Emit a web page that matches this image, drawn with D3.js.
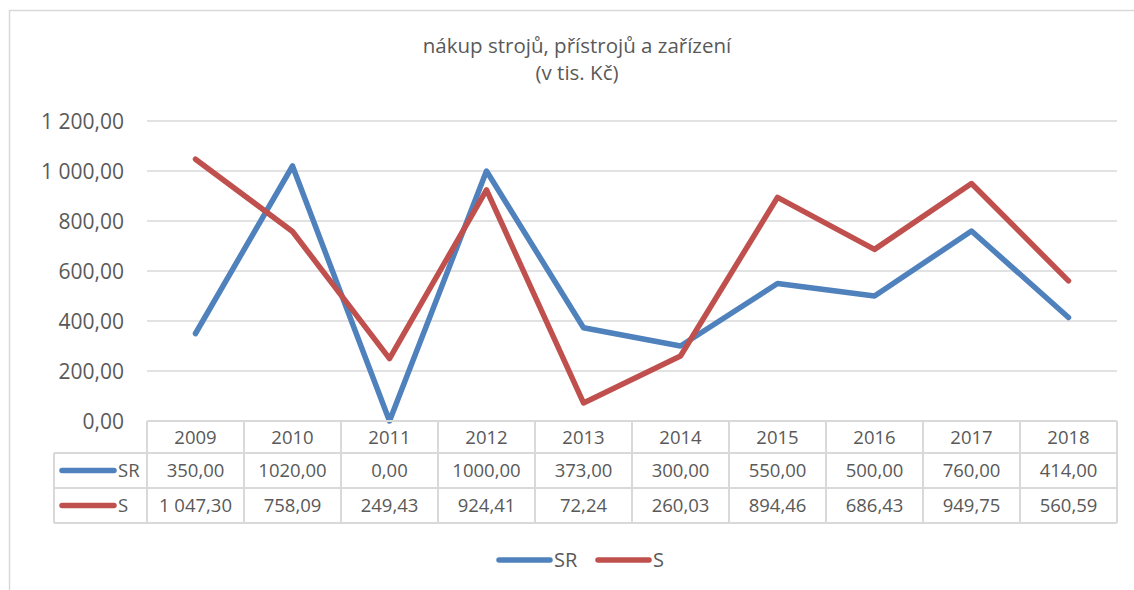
<!DOCTYPE html>
<html><head><meta charset="utf-8">
<script src="https://cdn.jsdelivr.net/npm/d3@7"></script>
<style>body{margin:0;background:#fff}svg{display:block}</style>
</head><body>
<svg id="c" width="1134" height="590"></svg>
<script>
const years = ["2009","2010","2011","2012","2013","2014","2015","2016","2017","2018"];
const srValues = [350, 1020, 0, 1000, 373, 300, 550, 500, 760, 414];
const sValues = [1047.30, 758.09, 249.43, 924.41, 72.24, 260.03, 894.46, 686.43, 949.75, 560.59];
const srLabels = ["350,00","1020,00","0,00","1000,00","373,00","300,00","550,00","500,00","760,00","414,00"];
const sLabels = ["1 047,30","758,09","249,43","924,41","72,24","260,03","894,46","686,43","949,75","560,59"];
const yTicks = [0, 200, 400, 600, 800, 1000, 1200];
const yTickLabels = ["0,00","200,00","400,00","600,00","800,00","1 000,00","1 200,00"];
const seriesNames = ["SR","S"];
const colors = ["#4f81bd","#c0504d"];

(function(){
const svg = d3.select("#c");
const font = "'Open Sans', sans-serif";
const txt = "#595959";
const grid = "#d9d9d9";

svg.append("path").attr("d","M9.5,590 V10.5 H1134").attr("fill","none").attr("stroke",grid).attr("stroke-width",1.5);

svg.append("text").attr("x",577).attr("y",53).attr("text-anchor","middle")
  .attr("font-family",font).attr("font-size",20.5).attr("fill",txt).text("nákup strojů, přístrojů a zařízení");
svg.append("text").attr("x",577).attr("y",80).attr("text-anchor","middle")
  .attr("font-family",font).attr("font-size",20.5).attr("fill",txt).text("(v tis. Kč)");

const pLeft = 147, pRight = 1117, pTop = 121, pBottom = 421;
const x = d3.scaleBand().domain(years).range([pLeft, pRight]);
const y = d3.scaleLinear().domain([0, 1200]).range([pBottom, pTop]);

svg.append("g").selectAll("line").data(yTicks.filter(d=>d>0)).join("line")
  .attr("x1",pLeft).attr("x2",pRight).attr("y1",d=>y(d)).attr("y2",d=>y(d))
  .attr("stroke",grid).attr("stroke-width",1.5);

svg.append("g").selectAll("text").data(yTicks).join("text")
  .attr("x",124).attr("y",d=>y(d)+7.5).attr("text-anchor","end")
  .attr("font-family",font).attr("font-size",21).attr("fill",txt)
  .text((d,i)=>yTickLabels[i]);

const line = d3.line().x((d,i)=>x(years[i])+x.bandwidth()/2).y(d=>y(d));
[srValues, sValues].forEach((vals,k)=>{
  svg.append("path").attr("d",line(vals)).attr("fill","none")
    .attr("stroke",colors[k]).attr("stroke-width",5.5).attr("stroke-linejoin","round").attr("stroke-linecap","round");
});

const rowTops = [421, 453, 488, 523];
const keyLeft = 54;
const tg = svg.append("g").attr("stroke",grid).attr("stroke-width",2);
tg.append("line").attr("x1",pLeft).attr("x2",pRight).attr("y1",rowTops[0]).attr("y2",rowTops[0]);
[1,2,3].forEach(r=>tg.append("line").attr("x1",keyLeft).attr("x2",pRight).attr("y1",rowTops[r]).attr("y2",rowTops[r]));
const colEdges = years.map(d=>x(d)).concat([pRight]);
colEdges.forEach(cx=>tg.append("line").attr("x1",cx).attr("x2",cx).attr("y1",rowTops[0]).attr("y2",rowTops[3]));
tg.append("line").attr("x1",keyLeft).attr("x2",keyLeft).attr("y1",rowTops[1]).attr("y2",rowTops[3]);

const tfs = 18.5;
svg.append("g").selectAll("text").data(years).join("text")
  .attr("x",d=>x(d)+x.bandwidth()/2).attr("y",(rowTops[0]+rowTops[1])/2+6.5).attr("text-anchor","middle")
  .attr("font-family",font).attr("font-size",tfs).attr("fill",txt).text(d=>d);

[srLabels, sLabels].forEach((labs,k)=>{
  const cy = (rowTops[k+1]+rowTops[k+2])/2;
  svg.append("g").selectAll("text").data(labs).join("text")
    .attr("x",(d,i)=>x(years[i])+x.bandwidth()/2).attr("y",cy+6.5).attr("text-anchor","middle")
    .attr("font-family",font).attr("font-size",tfs).attr("fill",txt).text(d=>d);
  svg.append("line").attr("x1",62).attr("x2",114).attr("y1",cy).attr("y2",cy)
    .attr("stroke",colors[k]).attr("stroke-width",5.5).attr("stroke-linecap","round");
  svg.append("text").attr("x",118).attr("y",cy+6.5).attr("font-family",font).attr("font-size",tfs)
    .attr("fill",txt).text(seriesNames[k]);
});

const legendItems = [{x0:499,x1:550,tx:554},{x0:598,x1:649,tx:653}];
legendItems.forEach((it,k)=>{
  svg.append("line").attr("x1",it.x0).attr("x2",it.x1).attr("y1",560).attr("y2",560)
    .attr("stroke",colors[k]).attr("stroke-width",5.5).attr("stroke-linecap","round");
  svg.append("text").attr("x",it.tx).attr("y",567).attr("font-family",font).attr("font-size",20)
    .attr("fill",txt).text(seriesNames[k]);
});
})();
</script>
</body></html>
